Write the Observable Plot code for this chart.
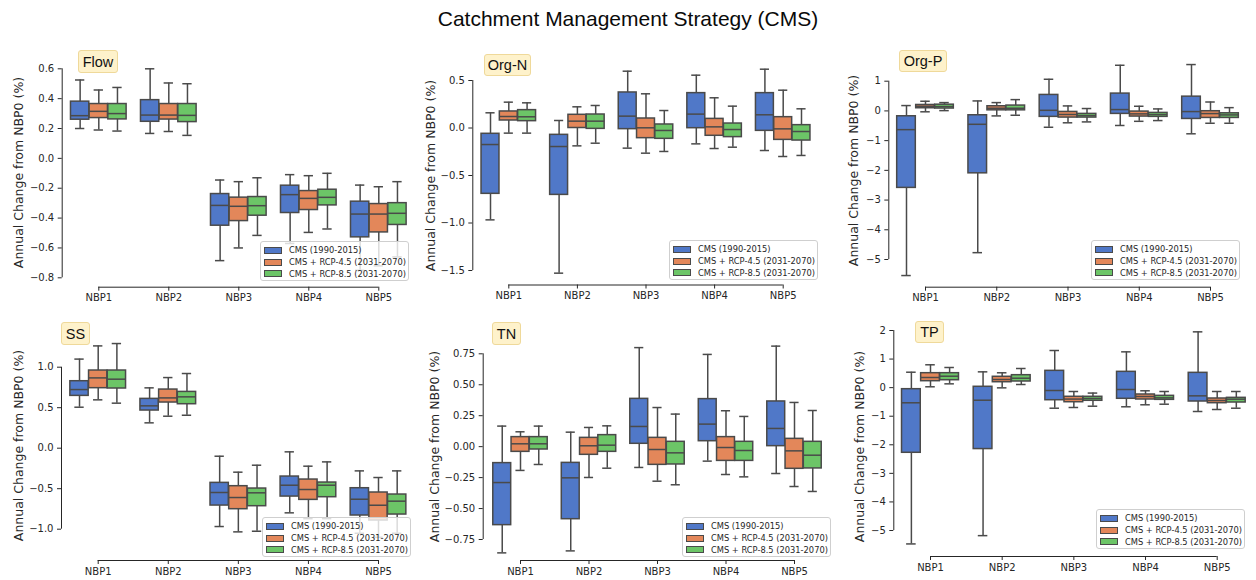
<!DOCTYPE html>
<html><head><meta charset="utf-8">
<script src="https://cdn.jsdelivr.net/npm/d3@7"></script>
<script src="https://cdn.jsdelivr.net/npm/@observablehq/plot@0.6"></script>
<style>
body{margin:0;background:#fff;}
#root{position:relative;width:1256px;height:580px;overflow:hidden;background:#fff;font-family:"DejaVu Sans";}
.cell{position:absolute;}
.ptitle{position:absolute;box-sizing:border-box;background:#fef2cb;border:1px solid #efd99a;border-radius:3px;font:14.5px "Liberation Sans";color:#111;display:flex;align-items:center;justify-content:center;}
.legend{position:absolute;box-sizing:border-box;width:149px;height:40px;background:rgba(255,255,255,0.8);border:1px solid #cfcfcf;border-radius:3px;padding:2.5px 0 0 3px;font-family:"DejaVu Sans";font-size:8.3px;color:#262626;}
.lrow{height:11.7px;display:flex;align-items:center;white-space:nowrap;}
.patch{width:18px;height:7px;box-sizing:border-box;border:1px solid #4a4a4a;margin-right:7px;flex:none;}
#title{position:absolute;left:0;top:7px;width:1256px;text-align:center;font:21px "Liberation Sans";color:#0a0a0a;}
</style></head><body><div id="root"><div id="title">Catchment Management Strategy (CMS)</div></div>
<script>
const categories = ["NBP1", "NBP2", "NBP3", "NBP4", "NBP5"];
const series = ["CMS (1990-2015)", "CMS + RCP-4.5 (2031-2070)", "CMS + RCP-8.5 (2031-2070)"];
const panelNames = ["Flow", "Org-N", "Org-P", "SS", "TN", "TP"];
const yLabel = "Annual Change from NBP0 (%)";

// each row: [whisker low, Q1, median, Q3, whisker high]; order NBP1 (3 series), NBP2 (3 series), ...
const flowStats = [
  [0.20, 0.259, 0.286, 0.38, 0.525], [0.19, 0.27, 0.315, 0.364, 0.458], [0.183, 0.261, 0.30, 0.364, 0.475],
  [0.167, 0.245, 0.29, 0.39, 0.60], [0.18, 0.26, 0.29, 0.364, 0.505], [0.154, 0.243, 0.288, 0.364, 0.50],
  [-0.685, -0.451, -0.315, -0.239, -0.145], [-0.60, -0.42, -0.321, -0.263, -0.156], [-0.516, -0.384, -0.317, -0.259, -0.13],
  [-0.57, -0.366, -0.243, -0.183, -0.109], [-0.496, -0.346, -0.268, -0.219, -0.116], [-0.473, -0.315, -0.261, -0.21, -0.10],
  [-0.75, -0.529, -0.373, -0.29, -0.179], [-0.72, -0.496, -0.373, -0.306, -0.19], [-0.66, -0.446, -0.368, -0.30, -0.156]
];
const orgNStats = [
  [-0.967, -0.693, -0.174, -0.061, 0.16], [-0.054, 0.079, 0.121, 0.174, 0.272], [-0.054, 0.072, 0.118, 0.188, 0.265],
  [-1.528, -0.704, -0.195, -0.072, 0.079], [-0.188, 0.0, 0.072, 0.139, 0.223], [-0.16, -0.009, 0.072, 0.142, 0.237],
  [-0.212, -0.012, 0.125, 0.374, 0.598], [-0.265, -0.107, 0.002, 0.10, 0.36], [-0.247, -0.114, -0.026, 0.037, 0.184],
  [-0.167, -0.002, 0.146, 0.367, 0.556], [-0.216, -0.082, 0.012, 0.096, 0.318], [-0.202, -0.096, -0.016, 0.047, 0.23],
  [-0.237, -0.03, 0.139, 0.367, 0.619], [-0.30, -0.125, -0.009, 0.114, 0.398], [-0.289, -0.132, -0.037, 0.03, 0.202]
];
const orgPStats = [
  [-5.54, -2.59, -0.63, -0.18, 0.18], [-0.03, 0.09, 0.157, 0.20, 0.325], [0.01, 0.08, 0.146, 0.21, 0.28],
  [-4.77, -2.10, -0.45, -0.146, 0.336], [-0.168, 0.02, 0.09, 0.157, 0.28], [-0.146, 0.02, 0.09, 0.18, 0.38],
  [-0.55, -0.20, 0.02, 0.538, 1.065], [-0.40, -0.224, -0.12, -0.034, 0.168], [-0.37, -0.224, -0.157, -0.10, 0.08],
  [-0.49, -0.10, 0.045, 0.583, 1.536], [-0.35, -0.19, -0.10, -0.022, 0.157], [-0.325, -0.20, -0.123, -0.067, 0.067],
  [-0.77, -0.27, -0.022, 0.48, 1.56], [-0.415, -0.236, -0.09, -0.01, 0.30], [-0.415, -0.236, -0.135, -0.08, 0.11]
];
const ssStats = [
  [0.506, 0.646, 0.724, 0.827, 1.10], [0.597, 0.741, 0.868, 0.959, 1.263], [0.556, 0.737, 0.852, 0.959, 1.292],
  [0.313, 0.465, 0.523, 0.609, 0.745], [0.395, 0.564, 0.621, 0.724, 0.872], [0.407, 0.543, 0.634, 0.695, 0.922],
  [-0.967, -0.708, -0.547, -0.428, -0.099], [-1.033, -0.753, -0.609, -0.469, -0.296], [-1.025, -0.716, -0.551, -0.498, -0.21],
  [-0.798, -0.597, -0.457, -0.35, -0.045], [-0.87, -0.638, -0.51, -0.387, -0.222], [-0.87, -0.605, -0.457, -0.424, -0.169],
  [-1.05, -0.831, -0.63, -0.494, -0.28], [-1.10, -0.893, -0.704, -0.547, -0.362], [-1.05, -0.819, -0.654, -0.572, -0.28]
];
const tnStats = [
  [-0.858, -0.634, -0.29, -0.133, 0.166], [-0.192, -0.042, 0.023, 0.077, 0.12], [-0.144, -0.023, 0.023, 0.077, 0.166],
  [-0.842, -0.586, -0.252, -0.131, 0.117], [-0.249, -0.066, 0.007, 0.071, 0.155], [-0.174, -0.042, 0.012, 0.093, 0.168],
  [-0.168, 0.023, 0.163, 0.386, 0.80], [-0.279, -0.147, -0.023, 0.071, 0.316], [-0.308, -0.144, -0.05, 0.039, 0.263],
  [-0.117, 0.044, 0.182, 0.384, 0.745], [-0.225, -0.115, -0.007, 0.077, 0.29], [-0.244, -0.115, -0.031, 0.039, 0.244],
  [-0.217, 0.004, 0.147, 0.365, 0.812], [-0.322, -0.179, -0.034, 0.063, 0.357], [-0.362, -0.176, -0.069, 0.039, 0.292]
];
const tpStats = [
  [-5.47, -2.28, -0.53, -0.054, 0.54], [0.03, 0.226, 0.355, 0.506, 0.80], [0.133, 0.26, 0.40, 0.506, 0.705],
  [-5.18, -2.15, -0.44, 0.03, 0.553], [-0.007, 0.19, 0.285, 0.38, 0.52], [0.11, 0.215, 0.33, 0.436, 0.67],
  [-0.72, -0.44, -0.10, 0.588, 1.30], [-0.695, -0.51, -0.40, -0.32, -0.135], [-0.65, -0.46, -0.38, -0.32, -0.19],
  [-0.67, -0.39, -0.065, 0.553, 1.253], [-0.60, -0.415, -0.31, -0.24, -0.11], [-0.58, -0.427, -0.357, -0.287, -0.135],
  [-0.835, -0.485, -0.287, 0.518, 1.953], [-0.765, -0.544, -0.45, -0.38, -0.135], [-0.72, -0.52, -0.404, -0.357, -0.135]
];

const flowTicks = [-0.8, -0.6, -0.4, -0.2, 0, 0.2, 0.4, 0.6];
const orgNTicks = [-1.5, -1.0, -0.5, 0, 0.5];
const orgPTicks = [-5, -4, -3, -2, -1, 0, 1];
const ssTicks = [-1.0, -0.5, 0, 0.5, 1.0];
const tnTicks = [-0.75, -0.5, -0.25, 0, 0.25, 0.5, 0.75];
const tpTicks = [-5, -4, -3, -2, -1, 0, 1, 2];
const tickFormats = [".1f", ".1f", "d", ".1f", ".2f", "d"];

const allStats = [flowStats, orgNStats, orgPStats, ssStats, tnStats, tpStats];
const allTicks = [flowTicks, orgNTicks, orgPTicks, ssTicks, tnTicks, tpTicks];

// styles
const palette = ["#5078c8", "#e3875a", "#6cc567"];
const lineColor = "#4a4a4a";
const axisColor = "#262626";

// layout (page pixels)
const layout = [
  {cell: [0, 40, 415, 265], spineX: 61.7, cat0: 98.3, cat4: 378.3, tTop: [0.6, 68.3], tBot: [-0.8, 277.3], spineY: 286.7, labelX: 18, labelY: 172, title: [78, 50, 40, 23], legend: [260, 241]},
  {cell: [415, 40, 420, 265], spineX: 472.3, cat0: 508.3, cat4: 782.7, tTop: [0.5, 80], tBot: [-1.5, 270], spineY: 284.5, labelX: 430.7, labelY: 175, title: [484, 54, 47, 22], legend: [669, 240]},
  {cell: [835, 40, 421, 265], spineX: 888.3, cat0: 925, cat4: 1210, tTop: [1, 80.7], tBot: [-5, 259], spineY: 286.7, labelX: 853, labelY: 170, title: [899, 50, 48, 22], legend: [1091, 240]},
  {cell: [0, 305, 415, 275], spineX: 61, cat0: 97.7, cat4: 378, tTop: [1, 366.7], tBot: [-1, 528.7], spineY: 560, labelX: 18.3, labelY: 445, title: [61, 322, 29, 23], legend: [262, 517]},
  {cell: [415, 305, 420, 275], spineX: 482.7, cat0: 520, cat4: 794, tTop: [0.75, 353.3], tBot: [-0.75, 539], spineY: 560, labelX: 434, labelY: 446, title: [492, 322, 29, 23], legend: [682, 517]},
  {cell: [835, 305, 421, 275], spineX: 893.3, cat0: 930, cat4: 1216.7, tTop: [2, 330], tBot: [-5, 530], spineY: 556, labelX: 859, labelY: 446, title: [915, 321, 29, 22], legend: [1096, 509]}
];

const root = document.getElementById("root");
const nS = series.length;

allStats.forEach((stats, k) => {
  const L = layout[k];
  const ticks = allTicks[k];
  const [cl, ct, cw, ch] = L.cell;
  const xs = d3.scaleLinear([0, categories.length - 1], [L.cat0 - cl, L.cat4 - cl]);
  const ys = d3.scaleLinear([L.tBot[0], L.tTop[0]], [L.tBot[1] - ct, L.tTop[1] - ct]);
  const bw = 0.8 / nS;
  const half = bw * 0.98 / 2;
  const cap = bw / 4;
  const rows = stats.map((d, i) => ({cat: Math.floor(i / nS), s: i % nS, name: series[i % nS], lo: d[0], q1: d[1], med: d[2], q3: d[3], hi: d[4]}));
  const xc = d => d.cat + (d.s - (nS - 1) / 2) * bw;
  const spineXv = xs.invert(L.spineX - cl);
  const spineYv = ys.invert(L.spineY - ct);
  const labelYv = ys.invert(L.labelY - ct);

  const chart = Plot.plot({
    width: cw, height: ch,
    marginLeft: L.spineX - cl, marginRight: 0, marginTop: 0, marginBottom: ch - (L.spineY - ct),
    x: {type: "linear", domain: xs.domain(), range: xs.range()},
    y: {type: "linear", domain: ys.domain(), range: ys.range()},
    color: {domain: series, range: palette},
    style: {fontFamily: "DejaVu Sans", fontSize: "10px", color: axisColor, background: "none", overflow: "visible"},
    marks: [
      Plot.ruleX([0], {x: () => spineXv, y1: d3.min(ticks), y2: d3.max(ticks), stroke: axisColor, strokeWidth: 1}),
      Plot.ruleY([0], {y: () => spineYv, x1: 0, x2: categories.length - 1, stroke: axisColor, strokeWidth: 1}),
      Plot.axisY({ticks, tickFormat: d3.format(tickFormats[k]), tickSize: 4, tickPadding: 4, label: null, fontSize: 10}),
      Plot.axisX({ticks: d3.range(categories.length), tickFormat: i => categories[i], tickSize: 4, tickPadding: 3, label: null, fontSize: 10}),
      Plot.text([yLabel], {x: () => spineXv, y: () => labelYv, text: d => d, rotate: -90, dx: -(L.spineX - L.labelX), fontSize: 12.5, textAnchor: "middle", lineAnchor: "middle", fill: axisColor}),
      Plot.ruleX(rows, {x: xc, y1: "lo", y2: "q1", stroke: lineColor, strokeWidth: 1.5}),
      Plot.ruleX(rows, {x: xc, y1: "q3", y2: "hi", stroke: lineColor, strokeWidth: 1.5}),
      Plot.ruleY(rows, {y: "lo", x1: d => xc(d) - cap, x2: d => xc(d) + cap, stroke: lineColor, strokeWidth: 1.5}),
      Plot.ruleY(rows, {y: "hi", x1: d => xc(d) - cap, x2: d => xc(d) + cap, stroke: lineColor, strokeWidth: 1.5}),
      Plot.rect(rows, {x1: d => xc(d) - half, x2: d => xc(d) + half, y1: "q1", y2: "q3", fill: "name", stroke: lineColor, strokeWidth: 1.5}),
      Plot.ruleY(rows, {y: "med", x1: d => xc(d) - half, x2: d => xc(d) + half, stroke: lineColor, strokeWidth: 1.5})
    ]
  });
  const cell = document.createElement("div");
  cell.className = "cell";
  Object.assign(cell.style, {left: cl + "px", top: ct + "px", width: cw + "px", height: ch + "px"});
  cell.appendChild(chart);
  root.appendChild(cell);

  const t = document.createElement("div");
  t.className = "ptitle";
  Object.assign(t.style, {left: L.title[0] + "px", top: L.title[1] + "px", width: L.title[2] + "px", height: L.title[3] + "px"});
  t.textContent = panelNames[k];
  root.appendChild(t);

  const lg = document.createElement("div");
  lg.className = "legend";
  Object.assign(lg.style, {left: L.legend[0] + "px", top: L.legend[1] + "px"});
  series.forEach((s, j) => {
    const r = document.createElement("div");
    r.className = "lrow";
    const p = document.createElement("span");
    p.className = "patch";
    p.style.background = palette[j];
    const tx = document.createElement("span");
    tx.textContent = s;
    r.appendChild(p); r.appendChild(tx);
    lg.appendChild(r);
  });
  root.appendChild(lg);
});
</script></body></html>
